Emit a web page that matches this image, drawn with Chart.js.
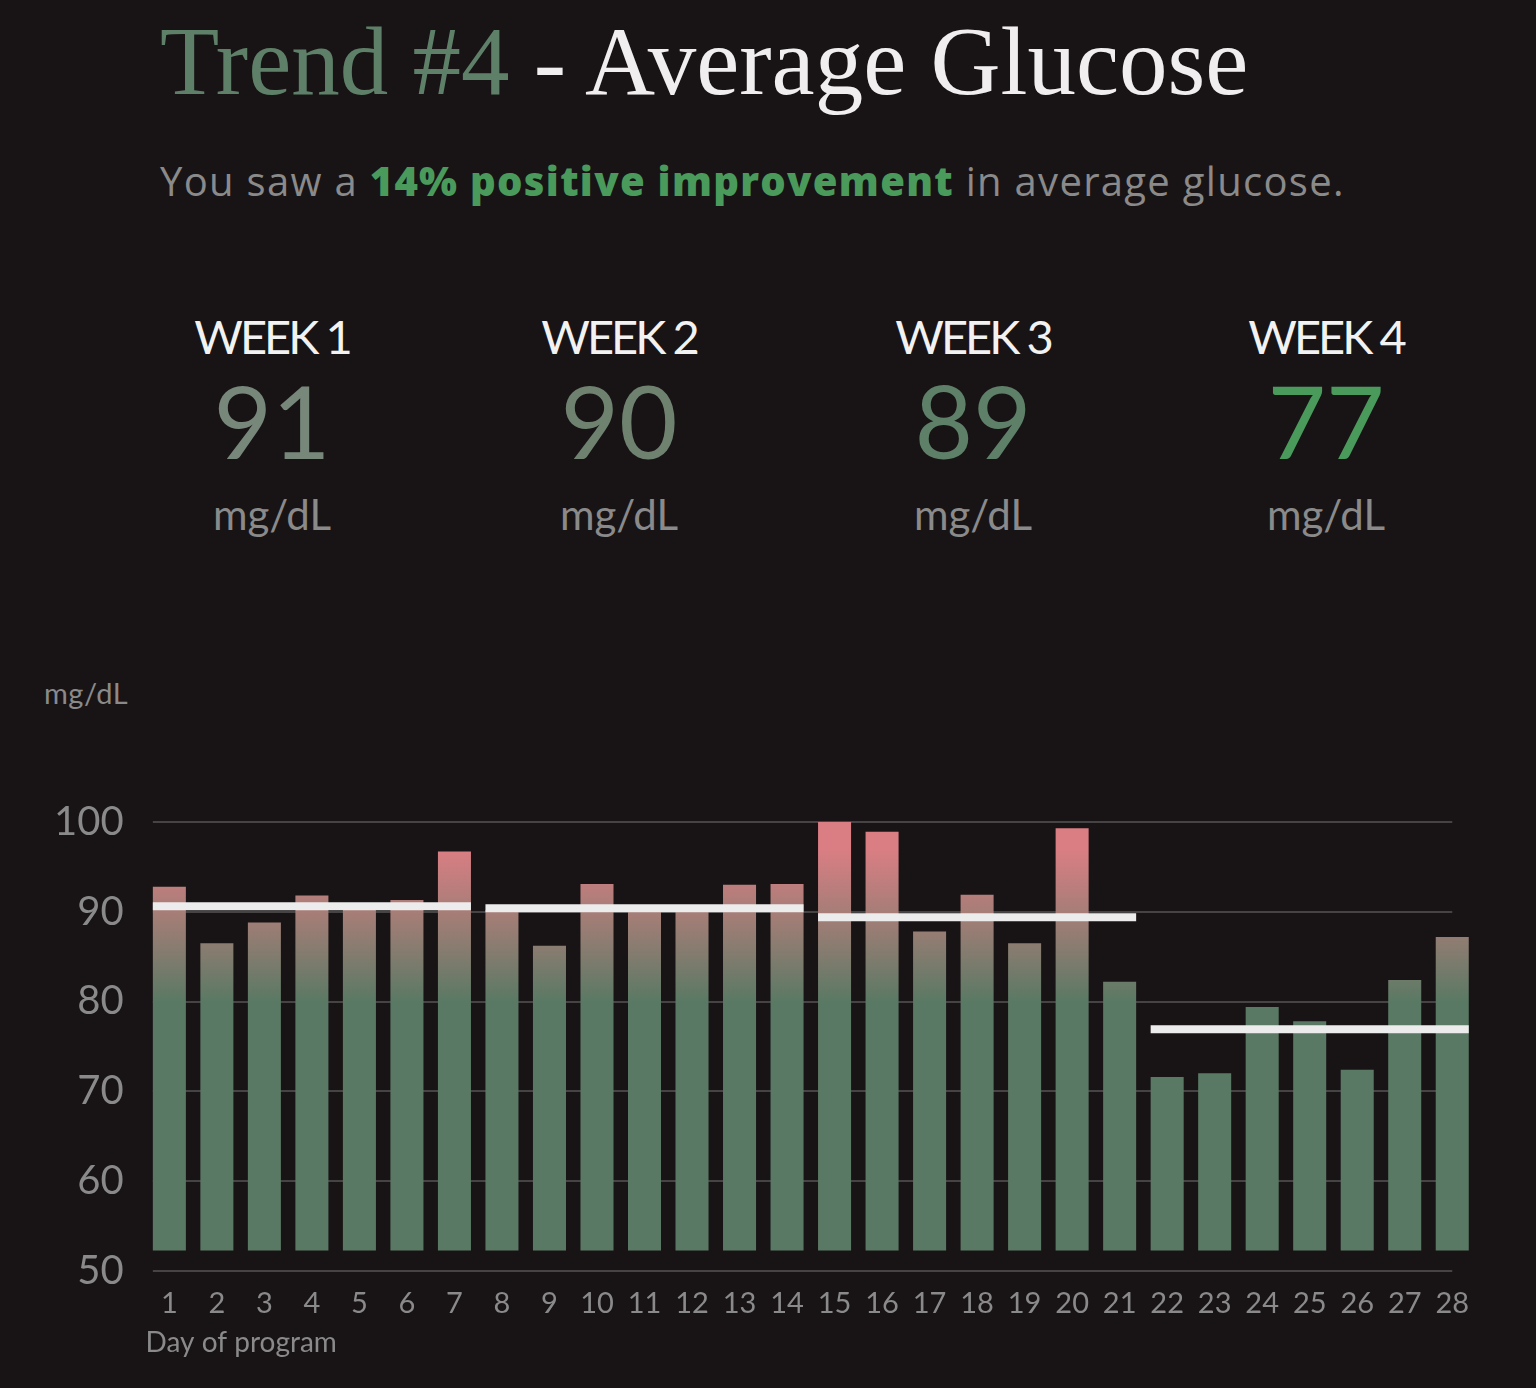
<!DOCTYPE html>
<html lang="en">
<head>
  <meta charset="UTF-8">
  <title>Trend #4 - Average Glucose</title>
  <script src="https://cdn.jsdelivr.net/npm/chart.js"></script>
  <style>
    html, body { margin: 0; padding: 0; }
    body {
      width: 1536px; height: 1388px; overflow: hidden;
      background: #181416; font-family: Lato, "Noto Sans", sans-serif;
      position: relative;
    }
    .title {
      position: absolute; left: 160px; top: 13px;
      font-family: "Liberation Serif", "DejaVu Serif", serif;
      font-size: 97px; line-height: 1; color: #f0eeee; white-space: nowrap;
    }
    .title .num { color: #5f8068; }
    .subtitle {
      position: absolute; left: 160px; top: 161px;
      font-family: "Open Sans", Lato, sans-serif;
      font-size: 40px; line-height: 1; color: #8a8a8a; white-space: nowrap;
      letter-spacing: 1.3px;
    }
    .subtitle b { color: #4a9a5c; font-weight: 800; }
    .week {
      position: absolute; width: 300px; text-align: center; line-height: 1;
    }
    .week .lbl { position: absolute; left: 0; right: 0; top: 1px; font-size: 47px; color: #f2f2f2; letter-spacing: -3px; }
    .week .val { position: absolute; left: 0; right: 0; top: 58px; font-size: 101px; }
    .week .unit { position: absolute; left: 0; right: 0; top: 181px; font-size: 42px; color: #8a8a8a; }
    .yunit {
      position: absolute; left: 44px; top: 678px;
      font-size: 29px; line-height: 1; color: #8a8a8a; letter-spacing: 0.5px;
    }
    #wrap { position: absolute; left: 0; top: 660px; width: 1536px; height: 728px; }
  </style>
</head>
<body>

  <!-- header -->
  <div class="title"><span class="num">Trend #4</span> - Average Glucose</div>
  <div class="subtitle">You saw a <b>14% positive improvement</b> in average glucose.</div>

  <div id="weeks"></div>

  <div class="yunit">mg/dL</div>

  <div id="wrap"><canvas id="glucoseChart"></canvas></div>

  <script>
    // daily average glucose, mg/dL
    const days = ['1','2','3','4','5','6','7','8','9','10','11','12','13','14',
                  '15','16','17','18','19','20','21','22','23','24','25','26','27','28'];
    const dailyGlucose = [92.8, 86.5, 88.8, 91.8, 90.6, 91.3, 96.7,
                          90.2, 86.2, 93.1, 90.1, 90.5, 93.0, 93.1,
                          100.0, 98.9, 87.8, 91.9, 86.5, 99.3, 82.2,
                          71.6, 72.0, 79.4, 77.8, 72.4, 82.4, 87.2];

    // weekly averages (white lines) and the rounded numbers in the header
    const weekLabels = ['WEEK 1', 'WEEK 2', 'WEEK 3', 'WEEK 4'];
    const weekLines = [90.6, 90.4, 89.4, 76.9];
    const weekShown = [91, 90, 89, 77];
    const weekColors = ['#77877a', '#6f8270', '#5f8068', '#4a9a5c'];
    const weekCenters = [272, 619, 973, 1326];

    const yTicks = [50, 60, 70, 80, 90, 100];

    // header blocks
    const weeksEl = document.getElementById('weeks');
    weekLabels.forEach((w, i) => {
      const d = document.createElement('div');
      d.className = 'week';
      d.style.left = (weekCenters[i] - 150) + 'px';
      d.style.top = '312px';
      d.innerHTML = '<div class="lbl">' + w + '</div>' +
        '<div class="val" style="color:' + weekColors[i] + '">' + weekShown[i] + '</div>' +
        '<div class="unit">mg/dL</div>';
      weeksEl.appendChild(d);
    });

    // grid lines from first bar edge to last bar centre, plus weekly average bars
    const overlay = {
      id: 'overlay',
      beforeDatasetsDraw(chart) {
        const { ctx, scales: { y } } = chart;
        const bars = chart.getDatasetMeta(0).data;
        const left = bars[0].x - bars[0].width / 2;
        const right = bars[bars.length - 1].x;
        ctx.save();
        ctx.strokeStyle = '#464345';
        ctx.lineWidth = 2;
        y.ticks.forEach(t => {
          const py = Math.round(y.getPixelForValue(t.value));
          ctx.beginPath();
          ctx.moveTo(left, py);
          ctx.lineTo(right, py);
          ctx.stroke();
        });
        ctx.restore();
      },
      afterDatasetsDraw(chart) {
        const { ctx, scales: { y } } = chart;
        const bars = chart.getDatasetMeta(0).data;
        ctx.save();
        ctx.strokeStyle = '#ececec';
        ctx.lineWidth = 8;
        weekLines.forEach((v, w) => {
          const a = bars[w * 7], b = bars[w * 7 + 6];
          const py = y.getPixelForValue(v);
          ctx.beginPath();
          ctx.moveTo(a.x - a.width / 2, py);
          ctx.lineTo(b.x + b.width / 2, py);
          ctx.stroke();
        });
        ctx.restore();
      }
    };

    const ctx = document.getElementById('glucoseChart').getContext('2d');

    function barFill(c) {
      const { chart } = c;
      const { chartArea, scales } = chart;
      if (!chartArea) return '#5a7964';
      const g = chart.ctx.createLinearGradient(0, scales.y.getPixelForValue(97), 0, scales.y.getPixelForValue(80));
      g.addColorStop(0, '#da7e83');
      g.addColorStop(0.5, '#9c7d75');
      g.addColorStop(1, '#5a7964');
      return g;
    }

    new Chart(ctx, {
      type: 'bar',
      data: {
        labels: days,
        datasets: [{
          data: dailyGlucose,
          base: 52.25,
          backgroundColor: barFill,
          borderWidth: 0,
          categoryPercentage: 1,
          barPercentage: 0.695
        }]
      },
      options: {
        responsive: true,
        maintainAspectRatio: false,
        animation: false,
        layout: { padding: { top: 162, left: 32, right: 60, bottom: 37 } },
        plugins: {
          legend: { display: false },
          tooltip: { enabled: false }
        },
        scales: {
          x: {
            grid: { display: false, drawTicks: false },
            border: { display: false },
            ticks: { color: '#8a8a8a', font: { family: 'Lato', size: 29 }, padding: 15, maxRotation: 0, autoSkip: false },
            title: {
              display: true, text: 'Day of program', align: 'start',
              color: '#8a8a8a', font: { family: 'Lato', size: 28, lineHeight: 0.55 }, padding: { top: 0, bottom: 0 }
            }
          },
          y: {
            min: 50, max: 100,
            afterBuildTicks(axis) { axis.ticks = yTicks.map(v => ({ value: v })); },
            grid: { display: false, drawTicks: false },
            border: { display: false },
            ticks: { color: '#8a8a8a', font: { family: 'Lato', size: 40 }, padding: 22 }
          }
        }
      },
      plugins: [overlay]
    });
  </script>
</body>
</html>
